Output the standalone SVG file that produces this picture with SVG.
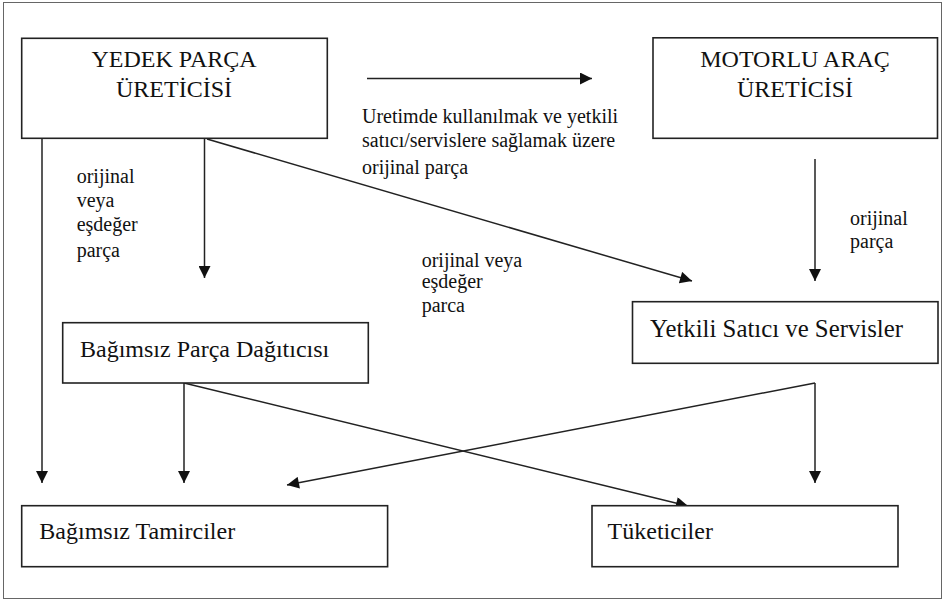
<svg xmlns="http://www.w3.org/2000/svg" width="945" height="601" viewBox="0 0 945 601">
<defs>
<style>
.box{fill:#fff;stroke:#222;stroke-width:1.6}
.ln{fill:none;stroke:#222;stroke-width:1.5;marker-end:url(#ah)}
.tt{font-size:24px;text-anchor:middle}
.tb{font-size:24px}
.tl{font-size:20px}
</style>
<marker id="ah" viewBox="0 0 12 12" markerWidth="13" markerHeight="12" refX="12" refY="6" orient="auto" markerUnits="userSpaceOnUse">
<path d="M0,0 L12,6 L0,12 z" fill="#111"/>
</marker>
</defs>
<rect x="0" y="0" width="945" height="601" fill="#fff"/>
<rect x="3.5" y="2.5" width="938" height="596" fill="none" stroke="#666" stroke-width="1"/>

<g id="connectors">
<line class="ln" x1="367" y1="78.5" x2="592" y2="78.5"/>
<line class="ln" x1="42" y1="138.5" x2="42" y2="483"/>
<line class="ln" x1="204.5" y1="138.5" x2="204.5" y2="278"/>
<line class="ln" x1="207" y1="139" x2="692" y2="281"/>
<line class="ln" x1="815" y1="159" x2="815" y2="281"/>
<line class="ln" x1="184" y1="383" x2="184" y2="483"/>
<line class="ln" x1="184" y1="383" x2="688" y2="506"/>
<line class="ln" x1="815" y1="383" x2="287" y2="485"/>
<line class="ln" x1="815" y1="383" x2="815" y2="483"/>
</g>

<g font-family="'Liberation Serif', 'Times New Roman', serif" fill="#111">
<g id="node-yedek">
<rect class="box" x="21.7" y="38.3" width="305.6" height="100"/>
<text class="tt" x="174" y="66.7">YEDEK PARÇA</text>
<text class="tt" x="174" y="96.7">ÜRETİCİSİ</text>
</g>

<g id="node-motorlu">
<rect class="box" x="653" y="37.8" width="284.5" height="100.5"/>
<text class="tt" x="795" y="66.7">MOTORLU ARAÇ</text>
<text class="tt" x="795" y="96.7">ÜRETİCİSİ</text>
</g>

<g id="node-dagitici">
<rect class="box" x="62.7" y="322.7" width="305.6" height="60.3"/>
<text class="tb" x="80" y="356.7">Bağımsız Parça Dağıtıcısı</text>
</g>

<g id="node-yetkili">
<rect class="box" x="632.5" y="301.7" width="305.5" height="61.6"/>
<text class="tb" x="650" y="336.7" style="font-size:24.8px">Yetkili Satıcı ve Servisler</text>
</g>

<g id="node-tamirciler">
<rect class="box" x="21.7" y="505.7" width="365.9" height="61"/>
<text class="tb" x="39.3" y="539">Bağımsız Tamirciler</text>
</g>

<g id="node-tuketiciler">
<rect class="box" x="592" y="505.7" width="306" height="61"/>
<text class="tb" x="607.6" y="539">Tüketiciler</text>
</g>

<g id="labels">
<text class="tl" x="362" y="123">Uretimde kullanılmak ve yetkili</text>
<text class="tl" x="362" y="147">satıcı/servislere sağlamak üzere</text>
<text class="tl" x="362" y="174">orijinal parça</text>

<text class="tl" x="76.7" y="183.3">orijinal</text>
<text class="tl" x="76.7" y="207.3">veya</text>
<text class="tl" x="76.7" y="231">eşdeğer</text>
<text class="tl" x="76.7" y="257.3">parça</text>

<text class="tl" x="421.7" y="266.5">orijinal veya</text>
<text class="tl" x="421.7" y="288.3">eşdeğer</text>
<text class="tl" x="421.7" y="311.7">parca</text>

<text class="tl" x="850" y="225">orijinal</text>
<text class="tl" x="850" y="248.3">parça</text>
</g>
</g>
</svg>
